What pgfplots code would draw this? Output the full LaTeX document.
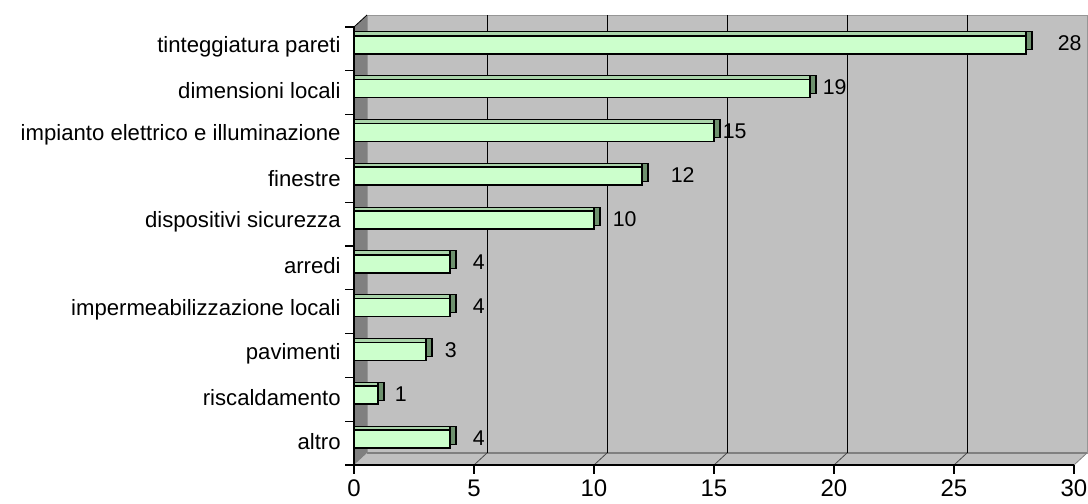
\documentclass[border=0pt]{standalone}
\usepackage{fontspec}
\setmainfont{Liberation Sans}
\usepackage{pgfplots}
\usepackage{pgfplotstable}
\pgfplotsset{compat=1.18}
\definecolor{barfront}{RGB}{204,255,204}
\definecolor{bartop}{RGB}{170,212,170}
\definecolor{barside}{RGB}{110,145,110}
\definecolor{wall}{RGB}{192,192,192}
\definecolor{sidewall}{RGB}{128,128,128}
\definecolor{wallline}{RGB}{150,150,150}

\pgfplotstableread{
y v dx
0 4 22
1 1 16
2 3 18
3 4 22
4 4 22
5 10 18
6 12 28
7 15 8
8 19 12
9 28 31
}\data

\begin{document}
\begin{tikzpicture}
\path[use as bounding box] (-265.5pt,-28.5pt) rectangle (550.5pt,348.75pt);
\begin{axis}[
 at={(0pt,0pt)}, anchor=south west,
 scale only axis, width=540pt, height=328.5pt,
 xmin=0, xmax=30, ymin=-0.5, ymax=9.5,
 axis on top,
 axis x line*=bottom, axis y line*=left,
 axis line style={-, black, line width=0.8pt},
 tick align=outside,
 xtick={0,5,...,30},
 xticklabel={\pgfmathprintnumber{\tick}},
 major tick length=6.5pt,
 ytick={-0.5,0.5,...,9.5},
 yticklabels={},
 extra y ticks={0,1,2,3,4,5,6,7,8,9},
 extra y tick labels={altro\hspace{0.3em}, riscaldamento, pavimenti, impermeabilizzazione locali, arredi, dispositivi sicurezza, finestre\hspace{0.3em}, impianto elettrico e illuminazione, dimensioni locali, tinteggiatura pareti},
 extra y tick style={tick style={draw=none}, yticklabel style={yshift=1.5pt}},
 tick style={black, line width=0.8pt},
 yticklabel style={font=\fontsize{16.6}{19}\selectfont},
 xticklabel style={font=\fontsize{18}{20}\selectfont, yshift=-1pt},
 /pgf/number format/assume math mode=true,
 clip=false,
]
% back wall
\fill[wall, draw=wallline, line width=0.6pt] ([shift={(9.75pt,9pt)}]axis cs:0,-0.5) rectangle ([shift={(9.75pt,9pt)}]axis cs:30,9.5);
% floor
\fill[wall] (axis cs:0,-0.5) -- (axis cs:30,-0.5) -- ([shift={(9.75pt,9pt)}]axis cs:30,-0.5) -- ([shift={(9.75pt,9pt)}]axis cs:0,-0.5) -- cycle;
\draw[sidewall, line width=0.8pt] ([shift={(9.75pt,9pt)}]axis cs:0,-0.5) -- ([shift={(9.75pt,9pt)}]axis cs:30,-0.5);
\draw[sidewall, line width=0.6pt] (axis cs:30,-0.5) -- ([shift={(9.75pt,9pt)}]axis cs:30,-0.5);
% left wall
\fill[sidewall] (axis cs:0,-0.5) -- (axis cs:0,9.5) -- ([shift={(9.75pt,9pt)}]axis cs:0,9.5) -- ([shift={(9.75pt,9pt)}]axis cs:0,-0.5) -- cycle;
\draw[black, line width=0.6pt] (axis cs:0,9.5) -- ([shift={(9.75pt,9pt)}]axis cs:0,9.5);
% grid on the back wall and floor
\pgfplotsinvokeforeach{5,10,15,20,25}{
 \draw[black, line width=0.7pt] ([shift={(9.75pt,9pt)}]axis cs:#1,-0.5) -- ([shift={(9.75pt,9pt)}]axis cs:#1,9.5);
 \draw[black!70, line width=0.6pt] (axis cs:#1,-0.5) -- ([shift={(9.75pt,9pt)}]axis cs:#1,-0.5);
}
% side faces (front value plus the depth of the bar)
\addplot[xbar, bar width=13.5pt, bar shift=6pt, fill=barside, draw=black, line width=0.8pt] table[x expr=\thisrow{v}+0.25, y=y]{\data};
% top faces
\addplot[xbar, bar width=13.5pt, bar shift=6pt, fill=bartop, draw=black, line width=0.8pt] table[x=v,y=y]{\data};
% front faces
\addplot[xbar, bar width=13.5pt, bar shift=3pt, fill=barfront, draw=black, line width=1.2pt,
 point meta=x, nodes near coords,
 visualization depends on={\thisrow{dx} \as \dx},
 nodes near coords style={anchor=west, inner sep=0pt, xshift=\dx*0.75pt, yshift=4pt, font=\fontsize{16}{19}\selectfont, text=black}] table[x=v,y=y]{\data};
\end{axis}
\end{tikzpicture}
\end{document}
